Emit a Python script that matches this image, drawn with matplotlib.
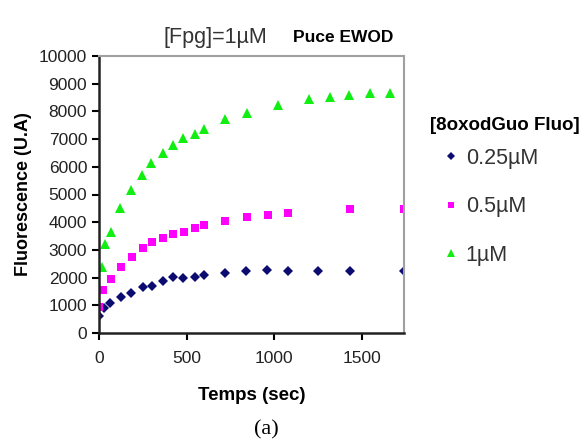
import matplotlib
matplotlib.use("Agg")
import matplotlib.pyplot as plt
from matplotlib.lines import Line2D

plt.rcParams['font.family'] = ['Liberation Sans', 'DejaVu Sans']

# temps (sec) et fluorescence (U.A)
t_025 = [0, 30, 65, 125, 185, 250, 300, 365, 420, 480, 545, 600, 720, 840, 960, 1080, 1250, 1430, 1740]
f_025 = [600, 900, 1100, 1300, 1450, 1650, 1700, 1880, 2010, 1970, 2030, 2080, 2150, 2250, 2280, 2250, 2250, 2250, 2230]

t_05 = [0, 25, 68, 124, 186, 249, 300, 363, 420, 485, 548, 601, 721, 842, 962, 1080, 1430, 1740]
f_05 = [950, 1550, 1950, 2370, 2750, 3060, 3300, 3420, 3570, 3660, 3800, 3890, 4040, 4170, 4260, 4330, 4490, 4490]

t_1 = [15, 36, 70, 122, 184, 247, 297, 363, 420, 481, 546, 599, 721, 842, 1023, 1196, 1318, 1425, 1545, 1660]
f_1 = [2400, 3200, 3660, 4530, 5150, 5690, 6130, 6490, 6800, 7030, 7170, 7350, 7730, 7950, 8220, 8450, 8510, 8600, 8650, 8670]

labels = ["0.25µM", "0.5µM", "1µM"]
c_025, c_05, c_1 = "#0c0c70", "#ff00ff", "#11ee11"

fig = plt.figure(figsize=(5.87, 4.47), dpi=100)
ax = fig.add_axes([99 / 587, 1 - 333 / 447, 305 / 587, 277 / 447])

ax.plot(t_025, f_025, "D", color=c_025, markersize=5.5, markeredgewidth=0)
ax.plot(t_05, f_05, "s", color=c_05, markersize=6, markeredgewidth=0)
ax.plot(t_1, f_1, "^", color=c_1, markersize=7.5, markeredgewidth=0)

ax.set_xlim(0, 1740)
ax.set_ylim(0, 10000)
ax.set_xticks([0, 500, 1000, 1500])
ax.set_yticks(range(0, 10001, 1000))
ax.tick_params(direction="out", length=5, width=1.5, labelsize=12.5, labelcolor="#222222")
ax.tick_params(axis="x", pad=8)
for s in ["top", "right"]:
    ax.spines[s].set_color("#a0a0a0")
    ax.spines[s].set_linewidth(1.5)
for s in ["left", "bottom"]:
    ax.spines[s].set_color("#222222")
    ax.spines[s].set_linewidth(1.8)

ax.set_xlabel("Temps (sec)", fontsize=13.5, fontweight="bold", labelpad=15)
ax.set_ylabel("Fluorescence (U.A)", fontsize=13, fontweight="bold", labelpad=5)

fig.text(215 / 587, 1 - 38 / 447, "[Fpg]=1µM", fontsize=15.5, color="#333333", ha="center", va="center")
fig.text(343 / 587, 1 - 38 / 447, "Puce EWOD", fontsize=12.5, fontweight="bold", ha="center", va="center")
fig.text(266 / 587, 1 - 430 / 447, "(a)", fontsize=16, family="Liberation Serif", ha="center", va="center")
fig.text(430 / 587, 1 - 125 / 447, "[8oxodGuo Fluo]", fontsize=13.5, fontweight="bold", ha="left", va="center")

handles = [
    Line2D([], [], ls="", marker="D", color=c_025, markersize=4.5, markeredgewidth=0),
    Line2D([], [], ls="", marker="s", color=c_05, markersize=5, markeredgewidth=0),
    Line2D([], [], ls="", marker="^", color=c_1, markersize=6, markeredgewidth=0),
]
leg = fig.legend(handles, labels, loc="upper left", bbox_to_anchor=(442 / 587, 1 - 148 / 447),
                 frameon=False, fontsize=15.5, labelspacing=1.27,
                 handlelength=0.8, handletextpad=0.3, borderpad=0, borderaxespad=0)
for txt in leg.get_texts():
    txt.set_color("#333333")

fig.savefig("out.png", dpi=100)
